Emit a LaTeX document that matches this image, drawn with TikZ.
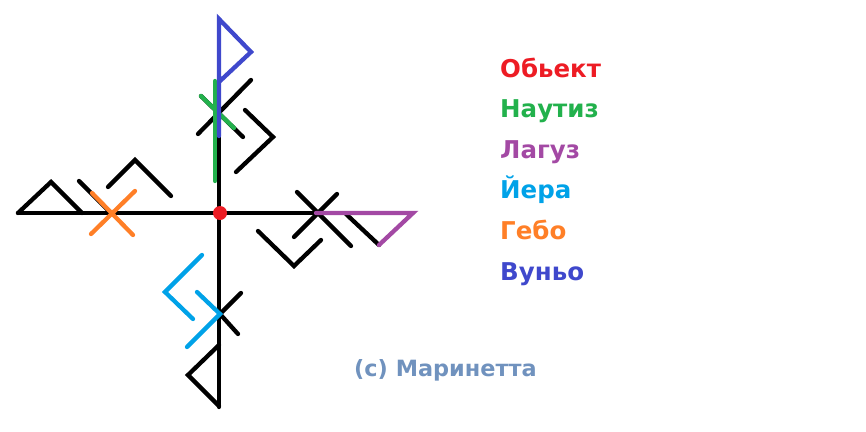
\documentclass[tikz,border=0pt]{standalone}
\usepackage{fontspec}
\setmainfont{DejaVu Sans}
\definecolor{pred}{RGB}{237,28,36}
\definecolor{pgreen}{RGB}{34,177,76}
\definecolor{ppurple}{RGB}{163,73,164}
\definecolor{pcyan}{RGB}{0,162,232}
\definecolor{porange}{RGB}{255,127,39}
\definecolor{pblue}{RGB}{63,72,204}
\definecolor{psteel}{RGB}{112,146,190}
\tikzset{
  rune/.style={line width=4.3pt, line cap=round, line join=miter},
  blk/.style={rune, black},
  lbl/.style={anchor=base west, inner sep=0pt, font=\fontsize{24.5}{30}\selectfont\bfseries},
}
\begin{document}
\begin{tikzpicture}[x=1pt,y=-1pt]
\useasboundingbox (0,0) rectangle (866,431);
% coordinates
\coordinate (C) at (220,213);
\coordinate (L) at (18,213);
\coordinate (R) at (316,213);
% main cross
\draw[blk] (219,136) -- (219,407);
\draw[blk] (L) -- (R);
% left arm
\draw[blk] (L) -- (51,182) -- (82,213);
\draw[blk] (79,181) -- (110,212);
\draw[blk] (108,187) -- (135,160) -- (171,196);
% top arm
\draw[blk] (198,134) -- (251,80);
\draw[blk] (201,96) -- (243,137);
\draw[blk] (245,110) -- (273,137) -- (236,172);
% right arm
\draw[blk] (297,192) -- (351,246);
\draw[blk] (337,194) -- (294,237);
\draw[blk] (258,231) -- (294,266) -- (321,240);
\draw[blk] (346,214) -- (379,245);
% bottom arm
\draw[blk] (219,345) -- (188,375) -- (219,406);
\draw[blk] (241,293) -- (220,314) -- (238,334);
% coloured runes
\draw[rune, pgreen] (215,81) -- (215,181);
\draw[rune, pgreen] (201,96) -- (234,128);
\draw[rune, pblue] (219,136) -- (219,19) -- (251,52) -- (219,82);
\draw[rune, ppurple] (316,213) -- (413,213) -- (379,245);
\draw[rune, porange] (92,193) -- (133,235);
\draw[rune, porange] (135,191) -- (91,234);
\draw[rune, pcyan] (202,255) -- (165,292) -- (193,319);
\draw[rune, pcyan] (197,292) -- (220,314) -- (187,347);
\fill[pred] (C) circle (7);
% legend
\node[lbl, text=pred] (l1) at (500,77) {Обьект};
\node[lbl, text=pgreen] (l2) at (500,117) {Наутиз};
\node[lbl, text=ppurple] (l3) at (500,158) {Лагуз};
\node[lbl, text=pcyan] (l4) at (500,198) {Йера};
\node[lbl, text=porange] (l5) at (500,239) {Гебо};
\node[lbl, text=pblue] (l6) at (500,280) {Вуньо};
\node[anchor=base west, inner sep=0pt, text=psteel, font=\fontsize{22.4}{26}\selectfont\bfseries] (cp) at (354,376) {(c) Маринетта};
\end{tikzpicture}
\end{document}
